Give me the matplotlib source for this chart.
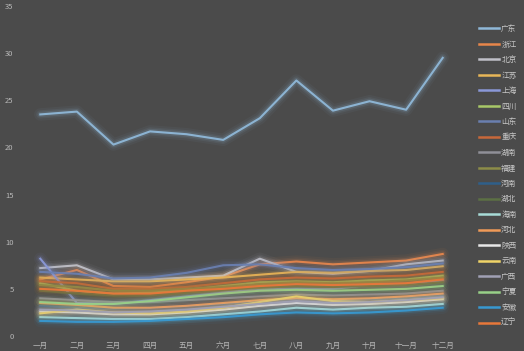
import matplotlib
matplotlib.use("Agg")
import matplotlib.pyplot as plt
from matplotlib.lines import Line2D

plt.rcParams['font.family'] = ['Noto Sans CJK SC', 'DejaVu Sans']

months = ['一月', '二月', '三月', '四月', '五月', '六月', '七月', '八月', '九月', '十月', '十一月', '十二月']
provinces = ['广东', '浙江', '北京', '江苏', '上海', '四川', '山东', '重庆', '湖南', '福建',
             '河南', '湖北', '海南', '河北', '陕西', '云南', '广西', '宁夏', '安徽', '辽宁']
colors = ['#8fb8d8', '#e8864a', '#c0c0c8', '#e8b658', '#8a98d8', '#a8c868', '#6a7fb0', '#c8683a',
          '#909098', '#8c8c48', '#2f5f8a', '#5c7044', '#a8dcd8', '#f09a58', '#e8e8e8', '#f0d468',
          '#a0a0b4', '#98d088', '#3898d0', '#e8783a']

guangdong = [23.5, 23.8, 20.3, 21.7, 21.4, 20.8, 23.1, 27.1, 23.9, 24.9, 24.0, 29.5]
zhejiang  = [6.0, 7.0, 5.3, 5.2, 5.7, 6.3, 7.6, 7.9, 7.6, 7.8, 8.0, 8.7]
beijing   = [7.2, 7.5, 6.0, 6.0, 6.2, 6.4, 8.2, 6.8, 6.6, 6.9, 7.6, 8.0]
jiangsu   = [6.2, 6.0, 5.8, 5.8, 6.0, 6.2, 6.5, 6.8, 6.7, 6.9, 7.0, 7.4]
shanghai  = [8.2, 3.5, 3.4, 3.8, 4.2, 4.6, 5.0, 5.0, 5.0, 5.4, 5.4, 5.9]
sichuan   = [5.6, 4.8, 4.5, 4.6, 4.9, 5.3, 5.7, 5.8, 5.7, 5.9, 6.0, 6.4]
shandong  = [6.8, 6.6, 6.1, 6.2, 6.7, 7.5, 7.6, 7.2, 7.0, 7.1, 7.3, 7.7]
chongqing = [5.8, 5.6, 5.0, 5.0, 5.2, 5.6, 6.0, 6.2, 6.1, 6.3, 6.4, 6.8]
hunan     = [4.0, 3.8, 3.6, 3.6, 3.8, 4.0, 4.2, 4.4, 4.3, 4.4, 4.5, 4.8]
fujian    = [5.4, 5.2, 4.8, 4.8, 5.0, 5.2, 5.5, 5.7, 5.6, 5.7, 5.9, 6.2]
henan     = [3.2, 3.0, 2.9, 3.0, 3.2, 3.4, 3.7, 3.9, 3.8, 3.9, 4.0, 4.3]
hubei     = [4.8, 4.5, 4.3, 4.3, 4.6, 4.9, 5.1, 5.3, 5.2, 5.3, 5.4, 5.7]
hainan    = [2.0, 1.9, 1.8, 1.8, 2.0, 2.3, 2.6, 3.0, 2.8, 3.0, 3.1, 3.4]
hebei     = [3.5, 3.3, 3.0, 3.0, 3.2, 3.5, 3.8, 4.0, 3.9, 4.0, 4.2, 4.5]
shaanxi   = [2.6, 2.5, 2.3, 2.3, 2.5, 2.8, 3.2, 3.5, 3.3, 3.4, 3.6, 3.9]
yunnan    = [2.4, 2.8, 2.5, 2.4, 2.6, 3.0, 3.6, 4.2, 3.7, 3.6, 3.8, 4.0]
guangxi   = [2.8, 2.7, 2.5, 2.6, 2.8, 3.1, 3.4, 3.7, 3.5, 3.6, 3.8, 4.1]
ningxia   = [3.6, 3.4, 3.4, 3.7, 4.1, 4.5, 4.8, 4.9, 4.8, 4.9, 5.0, 5.3]
anhui     = [1.6, 1.5, 1.5, 1.6, 1.8, 2.0, 2.3, 2.5, 2.4, 2.5, 2.7, 3.0]
liaoning  = [5.0, 4.8, 4.5, 4.5, 4.8, 5.0, 5.3, 5.5, 5.4, 5.5, 5.6, 6.0]

series = [guangdong, zhejiang, beijing, jiangsu, shanghai, sichuan, shandong, chongqing, hunan, fujian,
          henan, hubei, hainan, hebei, shaanxi, yunnan, guangxi, ningxia, anhui, liaoning]

y_ticks = [0, 5, 10, 15, 20, 25, 30, 35]

bg = '#4b4b4b'
fig = plt.figure(figsize=(5.24, 3.51), dpi=100, facecolor=bg)
ax = fig.add_axes([22/524, 1-336/351, (461-22)/524, (336-6)/351], facecolor=bg)

x = list(range(len(months)))
for vals, c in zip(series, colors):
    for lw, a in [(9, 0.05), (6, 0.08), (3.8, 0.14)]:
        ax.plot(x, vals, color=c, lw=lw, alpha=a, solid_capstyle='round', solid_joinstyle='round')
    ax.plot(x, vals, color=c, lw=1.5, alpha=0.95, solid_joinstyle='round')

ax.set_xlim(-0.5, 11.5)
ax.set_ylim(0, 35)
ax.set_yticks(y_ticks)
ax.set_xticks(x)
ax.set_xticklabels(months)
for s in ax.spines.values():
    s.set_visible(False)
ax.tick_params(length=0, colors='#b8b8b8', labelsize=5.5)
ax.tick_params(axis='y', pad=6)
ax.tick_params(axis='x', pad=4)

handles = [Line2D([0], [0], color=c, lw=1.8) for c in colors]
fig.legend(handles, provinces, loc='upper left', bbox_to_anchor=(476/524, 1-22/351),
           frameon=False, fontsize=5.5, labelcolor='#c8c8c8', handlelength=2.6,
           handletextpad=0.3, labelspacing=0.98, borderaxespad=0)

fig.savefig('out.png', dpi=100, facecolor=bg)
